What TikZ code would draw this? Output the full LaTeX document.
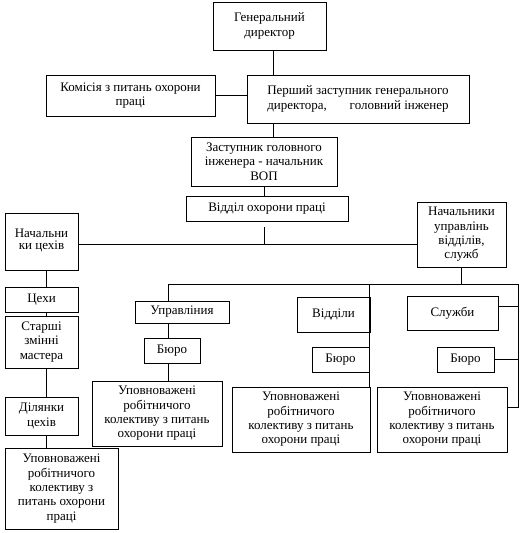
\documentclass[tikz,border=0pt]{standalone}
\usepackage{fontspec}
\setmainfont{Liberation Serif}
\usepackage{calc}
\begin{document}
\begin{tikzpicture}[x=1pt,y=-1pt,
  box/.style={draw, line width=0.8pt, inner sep=0pt, align=center, font=\fontsize{13}{14.3}\selectfont},
  conn/.style={line width=0.8pt}]
\useasboundingbox (0,0) rectangle (524,533);
% boxes
\node[box, minimum width=113pt, minimum height=48pt] (gd) at (269.5,26) {Генеральний\\директор};
\node[box, minimum width=169pt, minimum height=41pt] (kom) at (130.5,95.5) {Комісія з питань охорони\\праці};
\node[box, minimum width=222pt, minimum height=48pt] (p1) at (358,99) {Перший заступник генерального\\\makebox[\widthof{Перший заступник генерального}][s]{директора,\hfill головний інженер}};
\node[box, minimum width=146pt, minimum height=49pt] (zast) at (264,161.5) {Заступник головного\\інженера - начальник\\ВОП};
\node[box, minimum width=162pt, minimum height=25pt] (vop) at (267,208.5) {Відділ охорони праці};
\node[box, minimum width=73pt, minimum height=57pt] (nc) at (41.5,241.5) {\raisebox{5pt}{\shortstack{Начальни\\ки цехів}}};
\node[box, minimum width=89pt, minimum height=65pt] (nu) at (461.5,234.5) {Начальники\\управлінь\\відділів,\\служб};
\node[box, minimum width=94pt, minimum height=22pt] (upr) at (182,312) {Управліния};
\node[box, minimum width=56pt, minimum height=25pt] (b1) at (172,350.5) {Бюро};
\node[box, minimum width=130pt, minimum height=65pt] (u1) at (157,413.5) {Уповноважені\\робітничого\\колективу з питань\\охорони праці};
\node[box, minimum width=73pt, minimum height=35pt] (vid) at (333.5,314.5) {Відділи};
\node[box, minimum width=57pt, minimum height=25pt] (b2) at (340.5,359.5) {Бюро};
\node[box, minimum width=138pt, minimum height=65pt] (u2) at (301,419.5) {Уповноважені\\робітничого\\колективу з питань\\охорони праці};
\node[box, minimum width=91pt, minimum height=34pt] (sl) at (452.5,313) {Служби};
\node[box, minimum width=57pt, minimum height=25pt] (b3) at (465.5,359.5) {Бюро};
\node[box, minimum width=130pt, minimum height=65pt] (u3) at (442,419.5) {Уповноважені\\робітничого\\колективу з питань\\охорони праці};
\node[box, minimum width=73pt, minimum height=25pt] (ceh) at (41.5,299.5) {Цехи};
\node[box, minimum width=73pt, minimum height=52pt] (st) at (41.5,342) {Старші\\змінні\\мастера};
\node[box, minimum width=73pt, minimum height=38pt] (dil) at (41.5,416) {Ділянки\\цехів};
\node[box, minimum width=113pt, minimum height=81pt] (u4) at (61.5,488.5) {Уповноважені\\робітничого\\колективу з\\питань охорони\\праці};
% helper coordinates
\coordinate (spine) at (273,0);
\coordinate (bus) at (264,244);
\coordinate (lc) at (46,0);
\coordinate (bl) at (168,284);
\coordinate (bm) at (369,284);
\coordinate (br) at (518,284);
\coordinate (slc) at ([yshift=7pt]sl.east);
\coordinate (u3c) at ([yshift=12pt]u3.east);
\coordinate (vopc) at ([yshift=-6pt]vop.south);
% connectors
\draw[conn] (gd.south -| spine) -- (p1.north -| spine);
\draw[conn] (kom.east) -- (kom.east -| p1.west);
\draw[conn] (p1.south -| spine) -- (zast.north -| spine);
\draw[conn] (zast.south) -- (zast.south |- vop.north);
\draw[conn] (vopc -| bus) -- (bus);
\draw[conn] (nc.east |- bus) -- (nu.west |- bus);
\draw[conn] (nc.south -| lc) -- (ceh.north -| lc);
\draw[conn] (ceh.south -| lc) -- (st.north -| lc);
\draw[conn] (st.south -| lc) -- (dil.north -| lc);
\draw[conn] (dil.south -| lc) -- (u4.north -| lc);
\draw[conn] (nu.south) -- (nu.south |- br);
\draw[conn] (bl) -- (br);
\draw[conn] (bl) -- (bl |- upr.north);
\draw[conn] (upr.south -| bl) -- (b1.north -| bl);
\draw[conn] (b1.south -| bl) -- (u1.north -| bl);
\draw[conn] (bm) -- (bm |- u2.north);
\draw[conn] (br) -- (br |- u3c);
\draw[conn] (slc) -- (slc -| br);
\draw[conn] (b3.east) -- (b3.east -| br);
\draw[conn] (u3c) -- (u3c -| br);
\end{tikzpicture}
\end{document}
